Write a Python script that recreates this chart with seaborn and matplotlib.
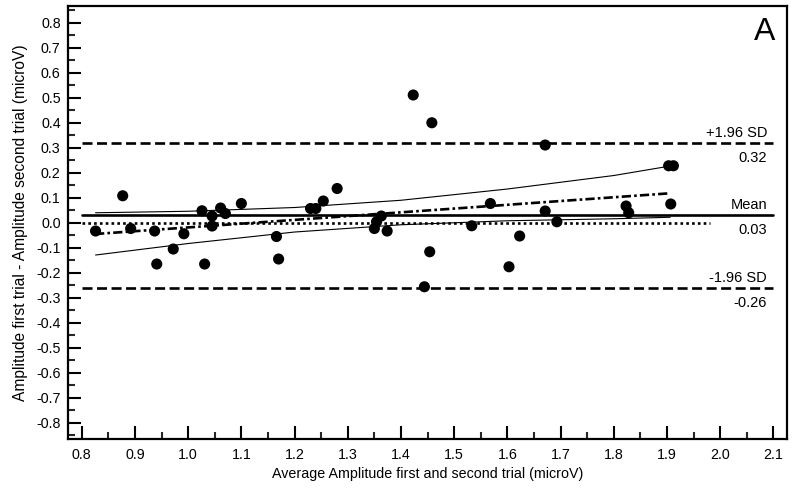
import numpy as np
import pandas as pd
import matplotlib
matplotlib.use("Agg")
import matplotlib.pyplot as plt
import seaborn as sns
from matplotlib.ticker import MultipleLocator, FormatStrFormatter

# ---- data ----
avg_amp = [0.826, 0.877, 0.892, 0.937, 0.941, 0.972, 0.992, 1.026, 1.031, 1.045,
           1.045, 1.061, 1.070, 1.100, 1.166, 1.170, 1.230, 1.240, 1.254, 1.280,
           1.350, 1.354, 1.363, 1.374, 1.423, 1.458, 1.454, 1.444, 1.533, 1.568,
           1.603, 1.623, 1.671, 1.671, 1.693, 1.823, 1.828, 1.903, 1.912, 1.907]
diff_amp = [-0.033, 0.108, -0.023, -0.033, -0.165, -0.105, -0.044, 0.048, -0.165, 0.027,
            -0.013, 0.059, 0.037, 0.077, -0.055, -0.145, 0.057, 0.057, 0.087, 0.137,
            -0.023, 0.004, 0.027, -0.033, 0.511, 0.400, -0.116, -0.256, -0.012, 0.077,
            -0.176, -0.053, 0.311, 0.047, 0.004, 0.067, 0.040, 0.228, 0.228, 0.075]

mean_diff = 0.033
upper_loa = 0.32
lower_loa = -0.26
limit_x = [0.8, 2.1]

reg_x = [0.825, 1.906]
reg_y = [-0.045, 0.118]

band_x = [0.826, 1.0, 1.2, 1.4, 1.6, 1.8, 1.906]
band_upper = [0.040, 0.046, 0.061, 0.090, 0.135, 0.189, 0.227]
band_lower = [-0.129, -0.083, -0.037, -0.008, 0.008, 0.016, 0.022]

zero_x = [0.8, 1.98]
zero_y = [0.0, 0.0]

labels_above = ["+1.96 SD", "Mean", "-1.96 SD"]
labels_below = ["0.32", "0.03", "-0.26"]
label_levels = [upper_loa, mean_diff, lower_loa]

sns.set_theme(style="white")
plt.rcParams["font.family"] = ["Liberation Sans", "DejaVu Sans"]
plt.rcParams["axes.unicode_minus"] = False

fig = plt.figure(figsize=(8, 4.91), dpi=100)
ax = fig.add_axes([0.0846, 0.1053, 0.8995, 0.8825])

pts = pd.DataFrame({"x": avg_amp, "y": diff_amp})

# horizontal reference lines
for lvl, ls, lw in [(upper_loa, (0, (3.8, 1.7)), 1.9),
                    (lower_loa, (0, (3.8, 1.7)), 1.9),
                    (mean_diff, "-", 1.9)]:
    sns.lineplot(x=limit_x, y=[lvl, lvl], ax=ax, color="black",
                 linewidth=lw, linestyle=ls, estimator=None, sort=False)

sns.lineplot(x=zero_x, y=zero_y, ax=ax, color="black", linewidth=1.9,
             linestyle=(0, (1, 1.2)), estimator=None, sort=False)

sns.lineplot(x=reg_x, y=reg_y, ax=ax, color="black", linewidth=1.9,
             linestyle=(0, (3.5, 1.2, 1, 1.2)), estimator=None, sort=False)

sns.lineplot(x=band_x, y=band_upper, ax=ax, color="black", linewidth=0.8,
             estimator=None, sort=False)
sns.lineplot(x=band_x, y=band_lower, ax=ax, color="black", linewidth=0.8,
             estimator=None, sort=False)

sns.scatterplot(data=pts, x="x", y="y", ax=ax, color="black", s=64,
                edgecolor="none", zorder=5)

for lvl, ta, tb in zip(label_levels, labels_above, labels_below):
    ax.annotate(ta, xy=(2.088, lvl), xytext=(0, 3.8), textcoords="offset points",
                ha="right", va="baseline", fontsize=10.5, color="black")
    ax.annotate(tb, xy=(2.088, lvl), xytext=(0, -14), textcoords="offset points",
                ha="right", va="baseline", fontsize=10.5, color="black")

ax.text(0.983, 0.9215, "A", transform=ax.transAxes, ha="right", va="baseline",
        fontsize=23, color="black")

ax.set_xlim(0.7736, 2.126)
ax.set_ylim(-0.866, 0.867)

ax.xaxis.set_major_locator(MultipleLocator(0.1))
ax.xaxis.set_minor_locator(MultipleLocator(0.05))
ax.yaxis.set_major_locator(MultipleLocator(0.1))
ax.yaxis.set_minor_locator(MultipleLocator(0.05))
ax.xaxis.set_major_formatter(FormatStrFormatter("%.1f"))
ax.yaxis.set_major_formatter(FormatStrFormatter("%.1f"))
ax.set_xticks([t / 10 for t in range(8, 22)])
ax.set_yticks([t / 10 for t in range(-8, 9)])

ax.tick_params(which="major", direction="in", length=9.6, width=1.5,
               labelsize=10.3, colors="black", pad=5, bottom=True, left=True,
               top=False, right=False)
ax.tick_params(which="minor", direction="in", length=4.8, width=1.5,
               bottom=True, left=True, top=False, right=False)
ax.tick_params(axis="x", which="major", pad=6)

for sp in ax.spines.values():
    sp.set_visible(True)
    sp.set_color("black")
    sp.set_linewidth(1.6)

ax.set_xlabel("Average Amplitude first and second trial (microV)", fontsize=10.3,
              color="black", labelpad=4)
ax.set_ylabel("Amplitude first trial - Amplitude second trial (microV)", fontsize=11.2,
              color="black", labelpad=6)
ax.grid(False)

fig.savefig("out.png", dpi=100)
